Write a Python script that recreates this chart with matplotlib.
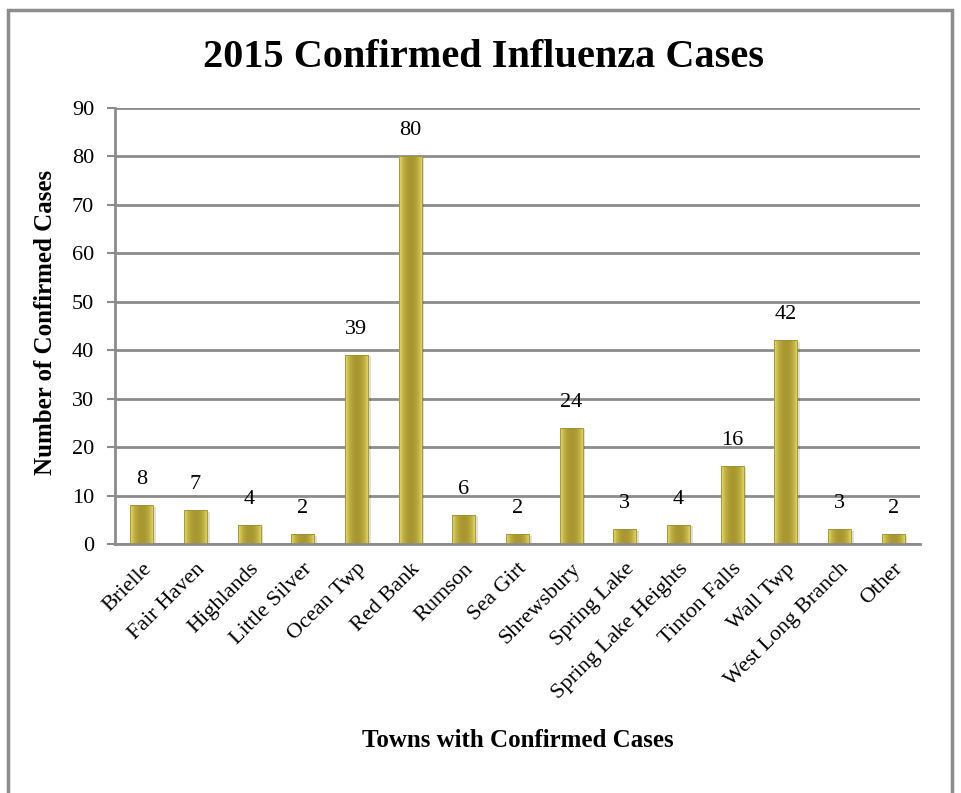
import matplotlib.pyplot as plt
import matplotlib.patches as mpatches
import numpy as np

towns = ['Brielle', 'Fair Haven', 'Highlands', 'Little Silver', 'Ocean Twp',
         'Red Bank', 'Rumson', 'Sea Girt', 'Shrewsbury', 'Spring Lake',
         'Spring Lake Heights', 'Tinton Falls', 'Wall Twp', 'West Long Branch', 'Other']
cases = [8, 7, 4, 2, 39, 80, 6, 2, 24, 3, 4, 16, 42, 3, 2]

plt.rcParams['font.family'] = ['Liberation Serif', 'DejaVu Serif']

fig = plt.figure(figsize=(9.62, 7.93), dpi=100)
ax = fig.add_axes([0.1195, 0.314, 0.8368, 0.5504])

# outer chart frame
fig.patches.append(mpatches.Rectangle((0.008, -0.05), 0.982, 1.037, transform=fig.transFigure,
                                      fill=False, edgecolor='#8c8c8c', linewidth=2.5))

x = np.arange(len(towns))
bar_width = 0.43
bars = ax.bar(x, cases, width=bar_width, color='none', edgecolor='#9a9036', linewidth=0.6, zorder=3)

# golden gradient across each bar
t = np.linspace(0, 1, 64)
w = np.abs(t - 0.5) * 2
light = np.array([0.92, 0.88, 0.40])
dark = np.array([0.66, 0.59, 0.19])
grad = (dark[None, :] + (light - dark)[None, :] * (w ** 2.2)[:, None])[None, :, :]
for b in bars:
    bx, by = b.get_x(), b.get_y()
    bw, bh = b.get_width(), b.get_height()
    im = ax.imshow(grad, extent=[bx, bx + bw, by, by + bh], aspect='auto', zorder=2.5, interpolation='bicubic')
    im.set_clip_path(b)
    shadow = mpatches.Rectangle((bx + 0.05, by), bw, bh - 0.3, facecolor='#000000', alpha=0.12, zorder=2.2)
    ax.add_patch(shadow)

for xi, v in zip(x, cases):
    ax.text(xi, v + 3.3, str(v), ha='center', va='bottom', fontsize=16)

ax.set_xlim(-0.5, len(towns) - 0.5)
ax.set_ylim(0, 90)
ax.set_yticks(range(0, 91, 10))
ax.set_xticks(x)
ax.set_xticklabels(towns, rotation=45, ha='right', rotation_mode='anchor', fontsize=16)
ax.tick_params(axis='y', labelsize=16, length=6, color='#8c8c8c', width=1.5, pad=9)
ax.tick_params(axis='x', length=0, pad=11)
ax.grid(axis='y', color='#8c8c8c', linewidth=2, zorder=0)
ax.set_axisbelow(True)
for s in ['top', 'right']:
    ax.spines[s].set_visible(False)
ax.spines['left'].set_color('#8c8c8c')
ax.spines['left'].set_linewidth(2)
ax.spines['bottom'].set_color('#8c8c8c')
ax.spines['bottom'].set_linewidth(2)

fig.text(0.047, 0.593, 'Number of Confirmed Cases', rotation=90, ha='center', va='center',
         fontsize=18, fontweight='bold')
fig.text(0.538, 0.0656, 'Towns with Confirmed Cases', ha='center', va='center', fontsize=18, fontweight='bold')
fig.text(0.503, 0.928, '2015 Confirmed Influenza Cases', ha='center', va='center', fontsize=29, fontweight='bold')

fig.savefig('out.png', dpi=100)
